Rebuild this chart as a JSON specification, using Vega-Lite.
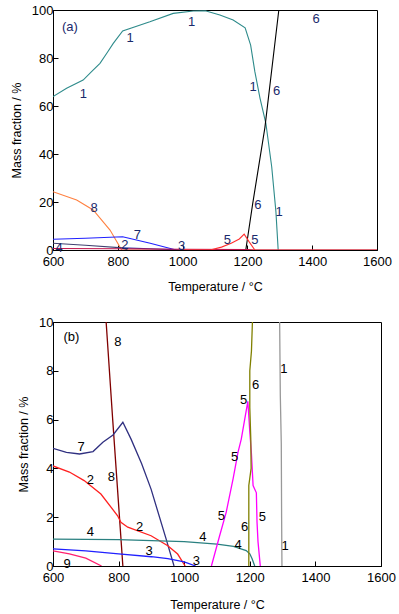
{
  "$schema": "https://vega.github.io/schema/vega-lite/v6.json",
  "padding": {"left": 9, "top": 3, "right": 5, "bottom": 2},
  "background": "white",
  "config": {
    "font": "Liberation Sans",
    "view": {"stroke": "black", "strokeWidth": 1},
    "axis": {
      "grid": false, "domainColor": "black", "tickColor": "black", "tickSize": -5,
      "labelFont": "Liberation Sans", "labelFontSize": 13, "labelColor": "black",
      "labelFlush": false, "labelOverlap": false, "format": "d",
      "titleFont": "Liberation Sans", "titleFontSize": 12.5, "titleFontWeight": "normal", "titleColor": "black"
    },
    "axisX": {"labelPadding": 10},
    "axisY": {"labelPadding": 5, "titlePadding": 8}
  },
  "datasets": {
    "a": [
      {"p": "1", "T": 600, "v": 63.9}, {"p": "1", "T": 642, "v": 67.4}, {"p": "1", "T": 693, "v": 70.8}, {"p": "1", "T": 719, "v": 74.3}, {"p": "1", "T": 745, "v": 77.8}, {"p": "1", "T": 766, "v": 82}, {"p": "1", "T": 786, "v": 86.1}, {"p": "1", "T": 815, "v": 91.3}, {"p": "1", "T": 899, "v": 95.1}, {"p": "1", "T": 971, "v": 98.6}, {"p": "1", "T": 1033, "v": 99.6}, {"p": "1", "T": 1070, "v": 99.7}, {"p": "1", "T": 1115, "v": 97.9}, {"p": "1", "T": 1156, "v": 95.8}, {"p": "1", "T": 1193, "v": 92.6}, {"p": "1", "T": 1210, "v": 85.4}, {"p": "1", "T": 1223, "v": 74.3}, {"p": "1", "T": 1239, "v": 63.2}, {"p": "1", "T": 1257, "v": 52.8}, {"p": "1", "T": 1275, "v": 34.7}, {"p": "1", "T": 1288, "v": 16}, {"p": "1", "T": 1295, "v": 0},
      {"p": "6", "T": 1195, "v": 0}, {"p": "6", "T": 1216, "v": 19}, {"p": "6", "T": 1254, "v": 51}, {"p": "6", "T": 1297, "v": 100}, {"p": "6", "T": 1600, "v": 100},
      {"p": "8", "T": 600, "v": 24.3}, {"p": "8", "T": 673, "v": 20.8}, {"p": "8", "T": 724, "v": 16.7}, {"p": "8", "T": 776, "v": 8.3}, {"p": "8", "T": 812, "v": 0}, {"p": "8", "T": 1600, "v": 0},
      {"p": "7", "T": 600, "v": 4.5}, {"p": "7", "T": 700, "v": 4.9}, {"p": "7", "T": 815, "v": 5.5}, {"p": "7", "T": 900, "v": 2.8}, {"p": "7", "T": 971, "v": 0.3}, {"p": "7", "T": 980, "v": 0},
      {"p": "2", "T": 600, "v": 2.8}, {"p": "2", "T": 700, "v": 2.0}, {"p": "2", "T": 815, "v": 0.9}, {"p": "2", "T": 830, "v": 0},
      {"p": "3", "T": 815, "v": 0.9}, {"p": "3", "T": 900, "v": 0.5}, {"p": "3", "T": 1000, "v": 0},
      {"p": "4", "T": 600, "v": 0.6}, {"p": "4", "T": 800, "v": 0.5}, {"p": "4", "T": 1000, "v": 0.3}, {"p": "4", "T": 1200, "v": 0.2}, {"p": "4", "T": 1220, "v": 0}, {"p": "4", "T": 1600, "v": 0},
      {"p": "5", "T": 1000, "v": 0}, {"p": "5", "T": 1085, "v": 0}, {"p": "5", "T": 1120, "v": 1.2}, {"p": "5", "T": 1150, "v": 2.8}, {"p": "5", "T": 1175, "v": 4.6}, {"p": "5", "T": 1190, "v": 6.6}, {"p": "5", "T": 1205, "v": 3.5}, {"p": "5", "T": 1223, "v": 0}
    ],
    "b": [
      {"p": "8", "T": 762, "v": 10}, {"p": "8", "T": 782, "v": 6}, {"p": "8", "T": 813, "v": 0},
      {"p": "7", "T": 600, "v": 4.82}, {"p": "7", "T": 641, "v": 4.66}, {"p": "7", "T": 681, "v": 4.59}, {"p": "7", "T": 722, "v": 4.69}, {"p": "7", "T": 752, "v": 5.07}, {"p": "7", "T": 783, "v": 5.37}, {"p": "7", "T": 813, "v": 5.89}, {"p": "7", "T": 838, "v": 5.2}, {"p": "7", "T": 870, "v": 4.2}, {"p": "7", "T": 899, "v": 3.15}, {"p": "7", "T": 945, "v": 1.1}, {"p": "7", "T": 969, "v": 0},
      {"p": "2", "T": 600, "v": 4.1}, {"p": "2", "T": 650, "v": 3.85}, {"p": "2", "T": 695, "v": 3.5}, {"p": "2", "T": 746, "v": 2.95}, {"p": "2", "T": 797, "v": 2.06}, {"p": "2", "T": 807, "v": 1.79}, {"p": "2", "T": 828, "v": 1.59}, {"p": "2", "T": 899, "v": 1.24}, {"p": "2", "T": 950, "v": 0.83}, {"p": "2", "T": 980, "v": 0.49}, {"p": "2", "T": 1003, "v": 0},
      {"p": "4", "T": 600, "v": 1.1}, {"p": "4", "T": 800, "v": 1.08}, {"p": "4", "T": 1000, "v": 1.0}, {"p": "4", "T": 1100, "v": 0.9}, {"p": "4", "T": 1150, "v": 0.8}, {"p": "4", "T": 1189, "v": 0.63}, {"p": "4", "T": 1200, "v": 0.5}, {"p": "4", "T": 1207, "v": 0.3}, {"p": "4", "T": 1215, "v": 0},
      {"p": "3", "T": 600, "v": 0.7}, {"p": "3", "T": 700, "v": 0.62}, {"p": "3", "T": 800, "v": 0.5}, {"p": "3", "T": 900, "v": 0.38}, {"p": "3", "T": 950, "v": 0.3}, {"p": "3", "T": 1000, "v": 0.17}, {"p": "3", "T": 1035, "v": 0},
      {"p": "9", "T": 600, "v": 0.62}, {"p": "9", "T": 650, "v": 0.5}, {"p": "9", "T": 700, "v": 0.32}, {"p": "9", "T": 748, "v": 0},
      {"p": "5", "T": 1083, "v": 0}, {"p": "5", "T": 1108, "v": 1.24}, {"p": "5", "T": 1128, "v": 2.2}, {"p": "5", "T": 1149, "v": 3.57}, {"p": "5", "T": 1164, "v": 4.66}, {"p": "5", "T": 1174, "v": 5.2}, {"p": "5", "T": 1194, "v": 6.75}, {"p": "5", "T": 1200, "v": 5.5}, {"p": "5", "T": 1205, "v": 4.6}, {"p": "5", "T": 1210, "v": 3.3}, {"p": "5", "T": 1220, "v": 3.0}, {"p": "5", "T": 1222, "v": 1.8}, {"p": "5", "T": 1225, "v": 1.0}, {"p": "5", "T": 1232, "v": 0},
      {"p": "6", "T": 1197, "v": 0}, {"p": "6", "T": 1197, "v": 3.3}, {"p": "6", "T": 1204, "v": 4.0}, {"p": "6", "T": 1203, "v": 5.2}, {"p": "6", "T": 1200, "v": 6.5}, {"p": "6", "T": 1200, "v": 8.0}, {"p": "6", "T": 1205, "v": 8.8}, {"p": "6", "T": 1208, "v": 10},
      {"p": "1", "T": 1291, "v": 10}, {"p": "1", "T": 1293, "v": 7}, {"p": "1", "T": 1296, "v": 5}, {"p": "1", "T": 1297, "v": 2}, {"p": "1", "T": 1298, "v": 0}
    ],
    "la": [
      {"t": "(a)", "T": 652, "v": 92.9}, {"t": "1", "T": 694, "v": 64.9}, {"t": "1", "T": 838, "v": 88.2}, {"t": "1", "T": 1028, "v": 95.1}, {"t": "1", "T": 1218, "v": 68}, {"t": "6", "T": 1290, "v": 66.3}, {"t": "6", "T": 1232, "v": 18.8}, {"t": "1", "T": 1298, "v": 15.7}, {"t": "5", "T": 1138, "v": 4.2}, {"t": "5", "T": 1223, "v": 4.2}, {"t": "6", "T": 1412, "v": 96.1}, {"t": "8", "T": 727, "v": 17.4}, {"t": "7", "T": 860, "v": 6.3}, {"t": "2", "T": 822, "v": 2.1}, {"t": "3", "T": 997, "v": 1.7}, {"t": "4", "T": 619, "v": 0.7}
    ],
    "lb": [
      {"t": "(b)", "T": 656, "v": 9.37}, {"t": "8", "T": 798, "v": 9.19}, {"t": "7", "T": 686, "v": 4.86}, {"t": "8", "T": 778, "v": 3.63}, {"t": "2", "T": 714, "v": 3.54}, {"t": "2", "T": 864, "v": 1.59}, {"t": "4", "T": 714, "v": 1.41}, {"t": "3", "T": 893, "v": 0.6}, {"t": "9", "T": 643, "v": 0.08}, {"t": "3", "T": 1037, "v": 0.19}, {"t": "4", "T": 1057, "v": 1.18}, {"t": "4", "T": 1164, "v": 0.86}, {"t": "5", "T": 1181, "v": 6.8}, {"t": "6", "T": 1218, "v": 7.42}, {"t": "1", "T": 1304, "v": 8.07}, {"t": "5", "T": 1154, "v": 4.45}, {"t": "5", "T": 1113, "v": 2.04}, {"t": "5", "T": 1238, "v": 2.0}, {"t": "6", "T": 1184, "v": 1.59}, {"t": "1", "T": 1308, "v": 0.81}
    ]
  },
  "resolve": {"scale": {"color": "independent"}},
  "spacing": 22,
  "vconcat": [
    {
      "width": 324, "height": 240,
      "layer": [
        {
          "data": {"name": "a"},
          "mark": {"type": "line", "strokeWidth": 1.1, "clip": true},
          "encoding": {
            "x": {"field": "T", "type": "quantitative", "scale": {"domain": [600, 1600], "nice": false, "zero": false}, "axis": {"values": [600, 800, 1000, 1200, 1400, 1600], "title": "Temperature / °C", "titlePadding": 12}},
            "y": {"field": "v", "type": "quantitative", "scale": {"domain": [0, 100], "nice": false}, "axis": {"values": [0, 20, 40, 60, 80, 100], "title": "Mass fraction / %"}},
            "color": {"field": "p", "type": "nominal", "legend": null, "scale": {"domain": ["1", "2", "3", "4", "5", "6", "7", "8"], "range": ["#2e8b8b", "#404070", "#3030a0", "#c0104a", "#ff3030", "#000000", "#2020ff", "#ff8040"]}},
            "order": {"value": null}
          }
        },
        {
          "data": {"name": "la"},
          "mark": {"type": "text", "fontSize": 13, "font": "Liberation Sans", "color": "#1a2a6c", "align": "center", "baseline": "middle"},
          "encoding": {
            "x": {"field": "T", "type": "quantitative"},
            "y": {"field": "v", "type": "quantitative"},
            "text": {"field": "t"}
          }
        }
      ]
    },
    {
      "width": 328, "height": 244,
      "layer": [
        {
          "data": {"name": "b"},
          "mark": {"type": "line", "strokeWidth": 1.3, "clip": true},
          "encoding": {
            "x": {"field": "T", "type": "quantitative", "scale": {"domain": [600, 1600], "nice": false, "zero": false}, "axis": {"values": [600, 800, 1000, 1200, 1400, 1600], "title": "Temperature / °C", "titlePadding": 14}},
            "y": {"field": "v", "type": "quantitative", "scale": {"domain": [0, 10], "nice": false}, "axis": {"values": [0, 2, 4, 6, 8, 10], "title": "Mass fraction / %"}},
            "color": {"field": "p", "type": "nominal", "legend": null, "scale": {"domain": ["1", "2", "3", "4", "5", "6", "7", "8", "9"], "range": ["#999999", "#ff2020", "#2020ff", "#2a8080", "#ff00ff", "#808000", "#303080", "#800000", "#ff2070"]}},
            "order": {"value": null}
          }
        },
        {
          "data": {"name": "lb"},
          "mark": {"type": "text", "fontSize": 13, "font": "Liberation Sans", "color": "black", "align": "center", "baseline": "middle"},
          "encoding": {
            "x": {"field": "T", "type": "quantitative"},
            "y": {"field": "v", "type": "quantitative"},
            "text": {"field": "t"}
          }
        }
      ]
    }
  ]
}
